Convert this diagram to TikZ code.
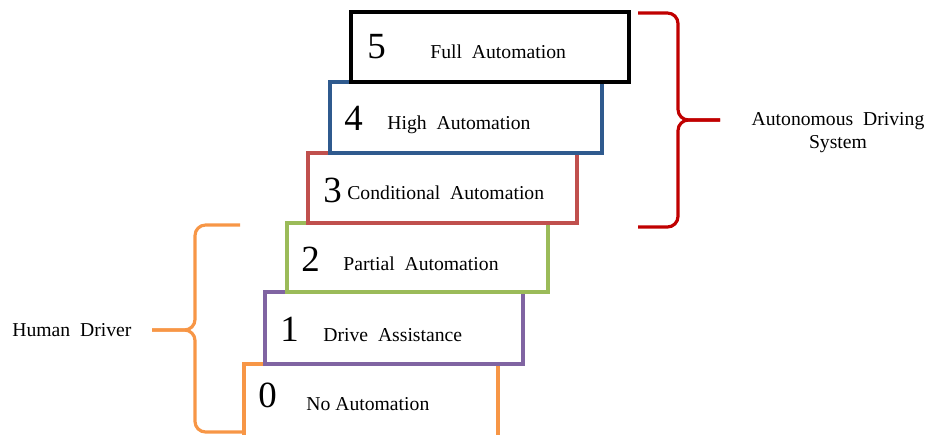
\documentclass[tikz,border=0pt]{standalone}
\usepackage{fontspec}
\setmainfont{Liberation Serif}
\definecolor{lvlfive}{HTML}{000000}
\definecolor{lvlfour}{HTML}{2F5A8E}
\definecolor{lvlthree}{HTML}{C0504D}
\definecolor{lvltwo}{HTML}{9BBB59}
\definecolor{lvlone}{HTML}{8064A2}
\definecolor{lvlzero}{HTML}{F79646}
\definecolor{bracered}{HTML}{C00000}
\definecolor{braceorange}{HTML}{F79646}
\tikzset{
  lvl/.style={line width=1.8pt},
  brace/.style={line width=1.8pt, rounded corners=6pt},
  num/.style={anchor=base west, inner sep=0pt, font=\fontsize{21}{24}\selectfont},
  txt/.style={anchor=base west, inner sep=0pt, font=\fontsize{11.2}{13}\selectfont},
}
\begin{document}
\begin{tikzpicture}[x=0.02cm, y=-0.02cm]
	\useasboundingbox (0,0) rectangle (928,434);
	\clip (0,0) rectangle (928,434);
	% steps, bottom first
	\draw[lvl, draw=lvlzero] (244,364) rectangle (498,450);
	\node[num] (n0) at (258,407) {0};
	\node[txt] (t0) at (306,410) {No Automation};
	\draw[lvl, draw=lvlone] (265,292) rectangle (523,364);
	\node[num] (n1) at (280,341) {1};
	\node[txt] (t1) at (323,341) {Drive\ \ Assistance};
	\draw[lvl, draw=lvltwo] (287,223) rectangle (548,292);
	\node[num] (n2) at (301,271) {2};
	\node[txt] (t2) at (343,270) {Partial\ \ Automation};
	\draw[lvl, draw=lvlthree] (308,153) rectangle (577,223);
	\node[num] (n3) at (323,202) {3};
	\node[txt] (t3) at (347,199) {Conditional\ \ Automation};
	\draw[lvl, draw=lvlfour] (330,82) rectangle (602,153);
	\node[num] (n4) at (344,130) {4};
	\node[txt] (t4) at (387,129) {High\ \ Automation};
	\draw[lvl, draw=lvlfive] (351,12) rectangle (629,82);
	\node[num] (n5) at (367,58) {5};
	\node[txt] (t5) at (430,58) {Full\ \ Automation};
	% braces
	\coordinate (ads) at (720,120);
	\coordinate (hd) at (152,330);
	\draw[brace, draw=bracered] (638,13) -| (678,120) -- (ads);
	\draw[brace, draw=bracered] (638,227) -| (678,120) -- (ads);
	\draw[brace, draw=braceorange] (240,225) -| (195,330) -- (hd);
	\draw[brace, draw=braceorange] (243,432) -| (195,330) -- (hd);
	\node[inner sep=0pt, align=center, font=\fontsize{11.2}{13}\selectfont] (sys) at (838,133) {Autonomous\ \ Driving\\System};
	\node[txt] (hum) at (12,336) {Human\ \ Driver};
\end{tikzpicture}
\end{document}
